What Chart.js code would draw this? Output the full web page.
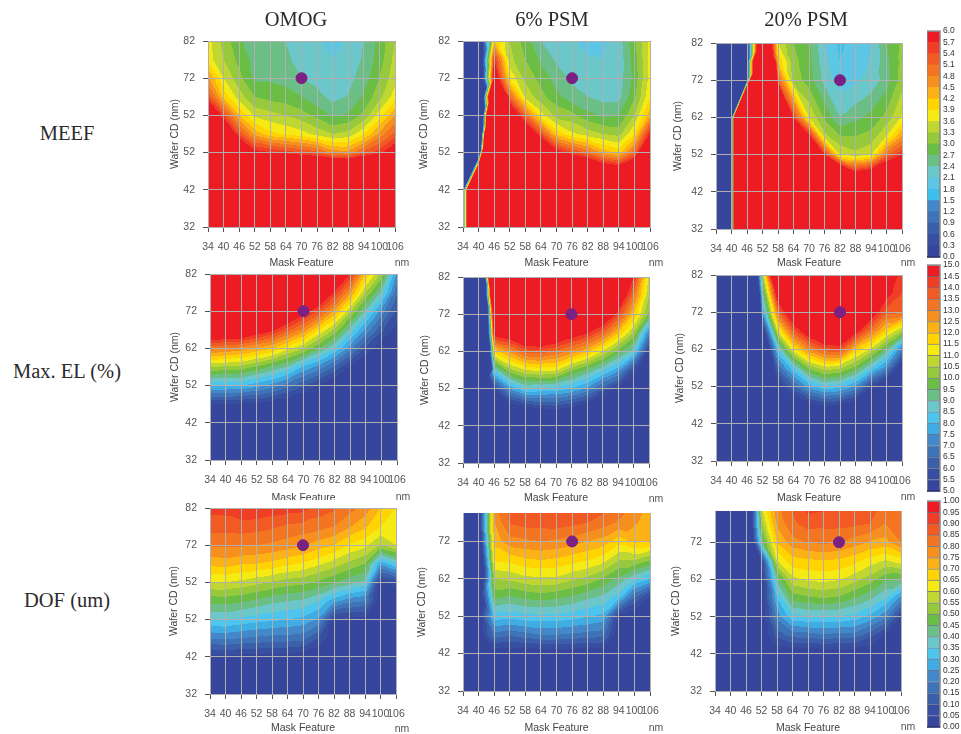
<!DOCTYPE html>
<html>
<head>
<meta charset="utf-8">
<title>Process window maps</title>
<script src="https://cdn.jsdelivr.net/npm/chart.js@4"></script>
<style>
  html, body { margin: 0; padding: 0; background: #fff; }
  body { position: relative; width: 961px; height: 734px; overflow: hidden; }
  canvas { position: absolute; }
  .lbl { position: absolute; transform: translate(-50%, -50%); white-space: nowrap; }
  .big { font: 20.5px "Liberation Serif", serif; color: #2b2b2b; }
  .nm { font: 10.5px "Liberation Sans", sans-serif; color: #555; }
  .cut { position: absolute; left: 250px; top: 500px; width: 120px; height: 7px; background: #fff; }
</style>
</head>
<body>
<script>
// grid the maps were read on
const xNodes = [34, 40, 46, 52, 58, 64, 70, 76, 82, 88, 94, 100, 106];
const yNodes = [32, 37, 42, 47, 52, 57, 62, 67, 72, 77, 82];
const yNodesNo47 = [32, 42, 52, 57, 62, 67, 72, 77, 82];
const yNodesNo67 = [32, 42, 47, 52, 57, 62, 72, 77, 82];

const xTicks = [34, 40, 46, 52, 58, 64, 70, 76, 82, 88, 94, 100, 106];
const yTicks = [32, 42, 52, 62, 72, 82];
const yTicksCut = [32, 42, 52, 62, 72];
const yLabels = ['32', '42', '52', '62', '72', '82'];
const yLabelsOmog = ['32', '42', '52', '52', '72', '82'];

const columnTitles = ['OMOG', '6% PSM', '20% PSM'];
const rowTitles = ['MEEF', 'Max. EL (%)', 'DOF (um)'];

const meefTicks = ['0.0','0.3','0.6','0.9','1.2','1.5','1.8','2.1','2.4','2.7','3.0','3.3','3.6','3.9','4.2','4.5','4.8','5.1','5.4','5.7','6.0'];
const elTicks = ['5.0','5.5','6.0','6.5','7.0','7.5','8.0','8.5','9.0','9.5','10.0','10.5','11.0','11.5','12.0','12.5','13.0','13.5','14.0','14.5','15.0'];
const dofTicks = ['0.00','0.05','0.10','0.15','0.20','0.25','0.30','0.35','0.40','0.45','0.50','0.55','0.60','0.65','0.70','0.75','0.80','0.85','0.90','0.95','1.00'];

const bandColors = ['#35469c','#384fa1','#3b5fa9','#3f73b7','#4389c9','#3fade3','#4ec5ec','#6cc7ca','#6bbf86','#6abd45',
  '#97c93c','#bfd730','#f5ea14','#ffd400','#fcb216','#f78f1e','#f47521','#f15a22','#ef3e25','#ed1c24'];
const meefColors = bandColors.slice();
meefColors[5] = '#3ec0ee';
meefColors[6] = '#5cc6e4';

const markerX = [70, 76, 82];
const markerY = 72;

// each table: one row per y node from the bottom, one value per x node
const meefOmog = [
  [15,15,15,15,15,15,15,15,15,15,15,15,15],
  [12,12,12,12,12,12,12,12,12,12,12,12,12],
  [10,10,10,10,10,10,10,10,10,10,10,10,10],
  [8,8,8,8,8,8,8,8,8,8,8,8,8],
  [10,8,7,5.9,5.75,5.6,5.4,5.2,4.7,4.6,5.2,5.6,6.2],
  [9,7,5.4,4.4,4.0,3.85,3.72,3.5,3.3,3.4,3.85,4.6,5.2],
  [7,5.5,4.25,3.55,3.4,3.3,3.15,2.9,2.65,2.75,3.1,3.75,4.5],
  [5.4,4.1,3.45,3.0,2.9,2.82,2.7,2.5,2.3,2.42,2.75,3.2,3.75],
  [4.6,3.6,3.1,2.65,2.65,2.6,2.4,2.3,2.2,2.3,2.55,3.0,3.5],
  [3.75,3.3,2.9,2.6,2.55,2.45,2.3,2.2,2.1,2.2,2.45,2.85,3.4],
  [3.7,3.2,2.75,2.55,2.5,2.4,2.25,2.15,2.0,2.15,2.4,2.8,3.3]
];
const meefPsm6 = [
  [0,24,24,24,24,24,24,24,24,24,24,24,24],
  [0,24,24,24,20,18,15,12,10,9,8.8,9.5,12],
  [0,-3,35,18,10,7.5,6,5.45,5.05,4.4,4.1,5.05,8],
  [0,-6,25,9,6.7,5.4,4.1,3.67,3.45,3.3,3.2,3.9,5.8],
  [0,-6.7,18,6.8,5.1,3.75,3.2,3.1,2.8,2.65,2.7,3.3,4.4],
  [0,-5,12,5.1,3.55,3.1,2.8,2.5,2.4,2.3,2.3,2.95,3.85],
  [0,-2,6.5,3.85,3.2,2.9,2.55,2.35,2.2,2.2,2.25,2.8,3.72],
  [0,-1.5,5.7,3.4,3.0,2.65,2.35,2.2,2.12,2.1,2.2,2.85,3.7],
  [0,-1,4.2,3.3,2.85,2.4,2.25,2.15,2.0,2.05,2.25,2.95,3.7]
];
const meefPsm20 = [
  [0,0,40,40,40,40,40,40,40,40,40,40,40],
  [0,0,40,40,40,40,30,20,15,12,12,14,16],
  [0,0,40,40,40,30,15,8,7.5,6,6.3,7,8],
  [0,0,40,40,30,15,9,5.7,3.6,3.4,3.6,5,5.7],
  [0,0,40,40,20,9,5.9,3.4,3,3,3.1,3.6,4.5],
  [0,0,40,35,12,5.6,3.6,2.95,2.4,2.6,2.8,3.1,3.65],
  [0,0,0,30,5.2,3.2,2.85,2.3,1.95,2.05,2.2,2.55,3.15],
  [0,0,0,15,4.2,3.1,2.8,2.2,1.8,1.98,2.12,2.6,3.1],
  [0,0,0,9,3.6,3.0,2.75,2.1,1.72,1.95,2.1,2.7,3.05]
];
const elOmog = [
  [2,2,2,2,2,2,2,2,2,2,2,2,2],
  [2,2,2,2,2,2,2,2,2,2,2,2,2],
  [3,3,3,3,3,3,3,3,3,3,3,3,3],
  [5.45,5.45,5.4,5.35,5.1,4.8,4.5,4.2,4,3.8,3.6,3.4,3.2],
  [8.1,8.05,8,7.7,7.3,6.7,6.1,5.4,4.8,4.4,4.2,4,3.8],
  [10.5,10.4,10.3,9.9,9.4,8.9,7.9,7.3,6.4,5.4,4.8,4.4,4.2],
  [13.2,13,12.8,12.4,12,11.2,10.5,9.5,8.5,7.2,5.9,5,4.6],
  [16,16,16,15.3,14.7,13.7,12.8,11.5,10.4,8.8,7.4,6.1,5.3],
  [20,20,20,18,17,16,15,13.9,12.4,10.6,8.9,7.3,5.9],
  [22,22,22,20,19,18,17,16,14.4,12.6,10.5,8.9,6.6],
  [24,24,24,22,21,20,19,18,16,14.5,11.9,10.4,7.4]
];
const elPsm6 = [
  [0,0,2,2,2,2,2,2,2,2,2,2,2],
  [0,0,2,2,2,2,2,2,2,2,2,2,2],
  [0,0,3,3,3,3,3,3,3,3,3,3,3],
  [0,0,4.5,4.9,5.4,5.7,5.8,5.5,4.9,4,3.5,3.2,3],
  [0,0,5.5,7.5,8.5,8.4,8.3,8,7.4,6.3,5.3,4.6,4],
  [0,-10,8.6,10.3,11,11.2,11.1,10.1,9.4,8.6,7.7,5.8,4.6],
  [-10,-10,11.7,12.7,13.7,13.8,13.4,12.8,12.1,11,9.8,8.7,5.3],
  [-10,-10,15,15.5,16.5,17,16,15.2,14.6,13.6,12,10.5,7.2],
  [-10,-10,17,18,19,20,19,18,17,16,14.2,12,9.9],
  [-10,-10,22,20,21,22,21,20,19,18,16,13.3,10.5],
  [-10,-10,28,22,23,24,23,22,21,20,18,14.6,10.9]
];
const elPsm20 = [
  [0,0,0,2,2,2,2,2,2,2,2,2,2],
  [0,0,0,2,2,2,2,2,2,2,2,2,2],
  [0,0,0,3,3,3,3,3,3,3,3,3,3],
  [0,0,0,2,3,4.5,5.1,5.6,5.4,4.7,3.6,3,2.8],
  [0,0,0,2.4,4.9,6.4,7.7,8.4,8.2,7.4,5.6,4.3,3.6],
  [0,0,0,2.6,6.6,8.4,10.1,10.8,10.6,9.8,8.5,7.2,4.7],
  [0,0,-10,3,8.4,11.3,12.9,13.8,14,11.9,10.9,9.4,7],
  [0,0,-10,4.8,11.1,13.8,15.4,16.5,16.5,15,13.2,11.7,10.5],
  [0,0,-10,7.5,13.4,16,18,19,19,18,15.3,13.7,13.6],
  [0,0,-8,8.8,15.5,18,20,20,20,19,17,14.8,14],
  [0,0,-5,10.4,19,20,21,21,21,20,18,15.5,14.2]
];
const dofOmog = [
  [0,0,0,0,0,0,0,0,0,0,0,0,0],
  [0,0,0,0,0,0,0,0,0,0,0,0,0],
  [0.03,0.04,0.03,0.03,0.03,0.02,0.01,0,0,0,0,0,0],
  [0.205,0.21,0.2,0.19,0.18,0.18,0.17,0.1,0,0,0,0,0],
  [0.35,0.355,0.335,0.32,0.31,0.3,0.285,0.24,0.03,0.03,0.03,0,0],
  [0.465,0.47,0.46,0.44,0.415,0.4,0.39,0.35,0.27,0.22,0.2,0,0],
  [0.6,0.6,0.585,0.565,0.545,0.525,0.515,0.49,0.455,0.42,0.385,0.02,0.07],
  [0.715,0.72,0.705,0.7,0.685,0.66,0.645,0.61,0.575,0.535,0.5,0.26,0.35],
  [0.81,0.81,0.81,0.8,0.79,0.775,0.755,0.725,0.7,0.645,0.615,0.545,0.6],
  [0.87,0.87,0.875,0.87,0.86,0.84,0.83,0.82,0.8,0.755,0.71,0.65,0.63],
  [0.92,0.92,0.945,0.945,0.93,0.925,0.92,0.88,0.86,0.82,0.78,0.7,0.65]
];
const dofPsm6 = [
  [0,0,0,0,0,0,0,0,0,0,0,0,0],
  [0,0,0,0,0,0,0,0,0,0,0,0,0],
  [0,0,0,0,0,0,0,0,0,0,0,0,0],
  [0,0,0.18,0.16,0.18,0.2,0.2,0.19,0.18,0.17,0,0,0],
  [0,0,0.33,0.32,0.335,0.34,0.335,0.325,0.305,0.285,0.04,0,0],
  [0,-0.1,0.46,0.44,0.46,0.47,0.46,0.44,0.41,0.385,0.32,0.15,0.04],
  [0,-0.2,0.55,0.56,0.585,0.59,0.59,0.56,0.535,0.495,0.435,0.36,0.3],
  [0,-0.2,0.655,0.665,0.69,0.7,0.69,0.67,0.65,0.62,0.55,0.55,0.5],
  [0,-0.1,0.72,0.78,0.79,0.8,0.79,0.775,0.75,0.73,0.67,0.71,0.705],
  [0,-0.02,0.75,0.855,0.87,0.87,0.875,0.865,0.85,0.825,0.79,0.76,0.72],
  [0,0,0.78,0.87,0.91,0.92,0.92,0.91,0.9,0.88,0.85,0.8,0.74]
];
const dofPsm20 = [
  [0,0,0,0,0,0,0,0,0,0,0,0,0],
  [0,0,0,0,0,0,0,0,0,0,0,0,0],
  [0,0,0,0,0,0,0,0,0,0,0,0,0],
  [0,0,0,0,0.12,0.17,0.175,0.19,0.18,0.18,0.12,0.04,0],
  [0,0,0,0,0.22,0.335,0.35,0.35,0.35,0.33,0.285,0.215,0.05],
  [0,0,0,0,0.3,0.47,0.49,0.5,0.49,0.45,0.41,0.35,0.23],
  [0,0,0,0,0.42,0.585,0.61,0.615,0.605,0.57,0.525,0.46,0.45],
  [0,0,-0.3,0.05,0.6,0.68,0.69,0.695,0.69,0.665,0.625,0.595,0.63],
  [0,0,-0.3,0.42,0.7,0.78,0.805,0.81,0.805,0.775,0.745,0.73,0.8],
  [0,0,-0.25,0.53,0.76,0.84,0.87,0.865,0.865,0.86,0.85,0.8,0.83],
  [0,0,-0.25,0.6,0.79,0.86,0.93,0.92,0.91,0.89,0.87,0.84,0.84]
];

// where things sit on the page
const panels = [
  { z: meefOmog,  rows: yNodes,     zMin: 0, zStep: 0.3,  colors: meefColors, mark: 0, yLab: yLabelsOmog, L: 208, T: 41,  W: 187, H: 186, yt: 176, xt: 262 },
  { z: meefPsm6,  rows: yNodesNo47, zMin: 0, zStep: 0.3,  colors: meefColors, mark: 1, yLab: yLabels,     L: 463, T: 41,  W: 187, H: 186, yt: 425, xt: 262 },
  { z: meefPsm20, rows: yNodesNo67, zMin: 0, zStep: 0.3,  colors: meefColors, mark: 2, yLab: yLabels,     L: 716, T: 43,  W: 186, H: 186, yt: 679, xt: 262 },
  { z: elOmog,    rows: yNodes,     zMin: 5, zStep: 0.5,  colors: bandColors, mark: 0, yLab: yLabels,     L: 210, T: 274, W: 187, H: 186, yt: 176, xt: 497 },
  { z: elPsm6,    rows: yNodes,     zMin: 5, zStep: 0.5,  colors: bandColors, mark: 1, yLab: yLabels,     L: 463, T: 277, W: 186, H: 186, yt: 426, xt: 497 },
  { z: elPsm20,   rows: yNodes,     zMin: 5, zStep: 0.5,  colors: bandColors, mark: 2, yLab: yLabels,     L: 716, T: 275, W: 186, H: 186, yt: 681, xt: 497 },
  { z: dofOmog,   rows: yNodes,     zMin: 0, zStep: 0.05, colors: bandColors, mark: 0, yLab: yLabelsOmog, L: 210, T: 508, W: 186, H: 186, yt: 175, xt: 726.5 },
  { z: dofPsm6,   rows: yNodes,     zMin: 0, zStep: 0.05, colors: bandColors, mark: 1, yLab: yLabels, yMax: 79.6, L: 463, T: 513, W: 187, H: 178, yt: 423, xt: 726.5 },
  { z: dofPsm20,  rows: yNodes,     zMin: 0, zStep: 0.05, colors: bandColors, mark: 2, yLab: yLabels, yMax: 80.4, L: 715, T: 511, W: 186, H: 180, yt: 677, xt: 726.5 }
];
const nmPos = [[402,262],[656,262],[908,262],[403,495.5],[656,497.5],[908,496],[402,728],[656,726.5],[908,726]];
const bars = [
  { ticks: meefTicks, colors: meefColors, top: 31,  sep: null },
  { ticks: elTicks,   colors: bandColors, top: 265, sep: 'rgba(25,30,70,0.55)' },
  { ticks: dofTicks,  colors: bandColors, top: 501, sep: 'rgba(25,30,70,0.55)' }
];

const fontSmall = { family: '"Liberation Sans", sans-serif', size: 10.5 };

function addLabel(text, x, y, cls) {
  const d = document.createElement('div');
  d.className = 'lbl ' + cls;
  d.textContent = text;
  d.style.left = x + 'px';
  d.style.top = y + 'px';
  document.body.appendChild(d);
}

function addCanvas(left, top, w, h) {
  const c = document.createElement('canvas');
  c.width = w;
  c.height = h;
  c.style.left = left + 'px';
  c.style.top = top + 'px';
  document.body.appendChild(c);
  return c;
}

function hexRgb(h) {
  return [parseInt(h.slice(1, 3), 16), parseInt(h.slice(3, 5), 16), parseInt(h.slice(5, 7), 16)];
}

function findCell(nodes, v) {
  let i = 0;
  while (i < nodes.length - 2 && v >= nodes[i + 1]) i++;
  return i;
}

// value on the triangulated grid, each quad split along its flatter diagonal
function surface(p, xv, yv) {
  const i = findCell(xNodes, xv), j = findCell(p.rows, yv);
  const u = (xv - xNodes[i]) / (xNodes[i + 1] - xNodes[i]);
  const v = (yv - p.rows[j]) / (p.rows[j + 1] - p.rows[j]);
  const a = p.z[j][i], b = p.z[j][i + 1], c = p.z[j + 1][i], d = p.z[j + 1][i + 1];
  if (Math.abs(a - d) <= Math.abs(b - c)) {
    if (u >= v) return a + (b - a) * u + (d - b) * v;
    return a + (c - a) * v + (d - c) * u;
  }
  if (u + v <= 1) return a + (b - a) * u + (c - a) * v;
  return d + (c - d) * (1 - u) + (b - d) * (1 - v);
}

// paints the filled bands under the grid, pixels come from the chart's own scales
const bandMap = {
  id: 'bandMap',
  beforeDraw(chart, args, opts) {
    const p = opts.panel, area = chart.chartArea;
    const sx = chart.scales.x, sy = chart.scales.y;
    const w = Math.round(area.right - area.left), h = Math.round(area.bottom - area.top);
    const off = document.createElement('canvas');
    off.width = w;
    off.height = h;
    const octx = off.getContext('2d');
    const img = octx.createImageData(w, h);
    const rgb = p.colors.map(hexRgb);
    for (let py = 0; py < h; py++) {
      const yv = sy.getValueForPixel(area.top + py + 0.5);
      for (let px = 0; px < w; px++) {
        const xv = sx.getValueForPixel(area.left + px + 0.5);
        const band = Math.max(0, Math.min(19, Math.floor((surface(p, xv, yv) - p.zMin) / p.zStep)));
        const k = (py * w + px) * 4;
        img.data[k] = rgb[band][0];
        img.data[k + 1] = rgb[band][1];
        img.data[k + 2] = rgb[band][2];
        img.data[k + 3] = 255;
      }
    }
    octx.putImageData(img, 0, 0);
    const ctx = chart.ctx;
    ctx.save();
    ctx.beginPath();
    ctx.rect(area.left, area.top, w, h);
    ctx.clip();
    ctx.drawImage(off, area.left, area.top);
    ctx.filter = 'blur(0.6px)';
    ctx.drawImage(off, area.left, area.top);
    ctx.restore();
  }
};

const barFrame = {
  id: 'barFrame',
  afterDraw(chart) {
    const a = chart.chartArea, ctx = chart.ctx;
    ctx.save();
    ctx.strokeStyle = '#8a8a8a';
    ctx.lineWidth = 1.5;
    ctx.strokeRect(a.left, a.top, a.right - a.left, a.bottom - a.top);
    ctx.strokeStyle = '#1e2a70';
    ctx.beginPath();
    ctx.moveTo(a.left, a.bottom);
    ctx.lineTo(a.right, a.bottom);
    ctx.stroke();
    ctx.restore();
  }
};

panels.forEach(function (p, n) {
  // the bottom-left map hides the lower edge of the axis title above it
  if (n === 6) {
    const cut = document.createElement('div');
    cut.className = 'cut';
    document.body.appendChild(cut);
  }
  const topM = 16, rightM = 22;
  const canvasLeft = p.yt - 7;
  const leftM = p.L - canvasLeft;
  const bottomY = Math.round(p.xt + 7);
  const bottomM = bottomY - (p.T + p.H);
  const cv = addCanvas(canvasLeft, p.T - topM, leftM + p.W + rightM, topM + p.H + bottomM);
  const ticksY = p.yMax ? yTicksCut : yTicks;
  new Chart(cv, {
    type: 'scatter',
    data: {
      datasets: [{
        data: [{ x: markerX[p.mark], y: markerY }],
        backgroundColor: '#7b2183',
        borderColor: '#7b2183',
        pointRadius: 5.5
      }]
    },
    options: {
      responsive: false,
      animation: false,
      layout: { padding: { top: topM, right: rightM, left: 0, bottom: 0 } },
      plugins: { legend: { display: false }, tooltip: { enabled: false }, bandMap: { panel: p } },
      scales: {
        x: {
          type: 'linear', min: 34, max: 106,
          afterBuildTicks: function (s) { s.ticks = xTicks.map(function (v) { return { value: v }; }); },
          afterFit: function (s) { s.height = bottomM; },
          grid: { color: '#b0b0b0', lineWidth: 1, tickColor: '#555', tickLength: 5 },
          border: { color: '#b0b0b0' },
          ticks: { autoSkip: false, maxRotation: 0, minRotation: 0, padding: 9, color: '#555', font: fontSmall },
          title: { display: true, text: 'Mask Feature', color: '#444', font: fontSmall, padding: 0 }
        },
        y: {
          type: 'linear', min: 32, max: p.yMax || 82,
          afterBuildTicks: function (s) { s.ticks = ticksY.map(function (v) { return { value: v }; }); },
          afterFit: function (s) { s.width = leftM; },
          grid: { color: '#b0b0b0', lineWidth: 1, tickColor: '#555', tickLength: 5 },
          border: { color: '#b0b0b0' },
          ticks: {
            autoSkip: false, padding: 8, color: '#555', font: fontSmall,
            callback: function (v, i) { return p.yLab[i]; }
          },
          title: { display: true, text: 'Wafer CD (nm)', color: '#444', font: fontSmall, padding: 0 }
        }
      }
    },
    plugins: [bandMap]
  });
  addLabel('nm', nmPos[n][0], nmPos[n][1], 'nm');
});

bars.forEach(function (b) {
  const cv = addCanvas(927, b.top - 8, 34, 242);
  const values = b.ticks.map(Number);
  new Chart(cv, {
    type: 'bar',
    data: {
      labels: [''],
      datasets: b.colors.map(function (col, i) {
        return {
          data: [[values[i], values[i + 1]]],
          backgroundColor: col,
          borderColor: b.sep || col,
          borderWidth: b.sep ? { top: 1 } : 0,
          borderSkipped: false,
          grouped: false,
          barPercentage: 1,
          categoryPercentage: 1
        };
      })
    },
    options: {
      responsive: false,
      animation: false,
      layout: { padding: { top: 8, bottom: 8, left: 0, right: 0 } },
      plugins: { legend: { display: false }, tooltip: { enabled: false } },
      scales: {
        x: { display: false },
        y: {
          position: 'right',
          min: values[0], max: values[values.length - 1],
          afterBuildTicks: function (s) { s.ticks = values.map(function (v) { return { value: v }; }); },
          afterFit: function (s) { s.width = 21; },
          grid: { display: false, drawTicks: false },
          border: { display: false },
          ticks: {
            autoSkip: false, padding: 3, color: '#333',
            font: { family: '"Liberation Sans", sans-serif', size: 8.5 },
            callback: function (v, i) { return b.ticks[i]; }
          }
        }
      }
    },
    plugins: [barFrame]
  });
});

addLabel(columnTitles[0], 296, 18.5, 'big');
addLabel(columnTitles[1], 552, 19, 'big');
addLabel(columnTitles[2], 806, 19, 'big');
addLabel(rowTitles[0], 67, 133, 'big');
addLabel(rowTitles[1], 67, 371, 'big');
addLabel(rowTitles[2], 67, 600, 'big');
</script>
</body>
</html>
